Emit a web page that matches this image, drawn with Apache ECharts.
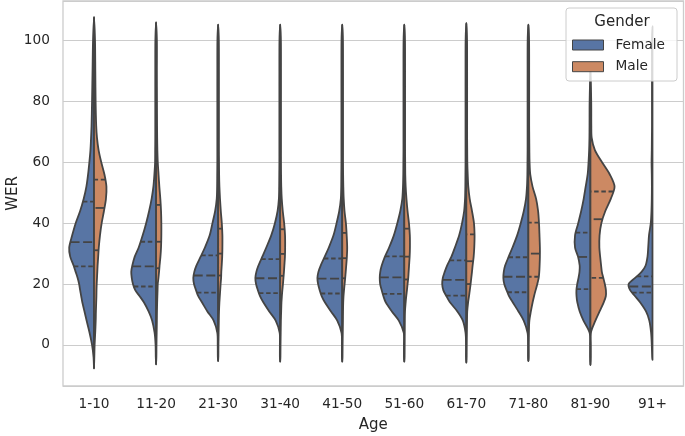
<!DOCTYPE html>
<html>
<head>
<meta charset="utf-8">
<script src="https://cdn.jsdelivr.net/npm/echarts@6/dist/echarts.min.js"></script>
<style>
  html, body { margin: 0; padding: 0; background: #fff; }
  #chart { width: 685px; height: 436px; }
</style>
</head>
<body>
<div id="chart"></div>
<script>
// categories on the x axis
var ageGroups = ['1-10', '11-20', '21-30', '31-40', '41-50', '51-60', '61-70', '71-80', '81-90', '91+'];

var yGrid = [-8, -4, 0, 4, 8, 11, 14, 16, 18, 20, 22, 24, 26, 29, 32, 36, 40, 44, 48, 52, 56, 60, 64, 68, 72, 80, 90, 100, 110];

// density (relative units, 25 = widest half) per age group, female half
var femaleDensity = [
  [0.3, 0.5, 2, 4.5, 7.5, 9.6, 11.8, 12.9, 14, 15, 16.5, 18.5, 20.5, 24, 25, 22, 18.5, 14, 10.4, 7.7, 6, 4.7, 3.6, 3, 2.5, 2, 1.5, 1, 0.8],
  [0.3, 0.3, 0.5, 1.5, 4, 7.5, 12.3, 16.5, 21, 23.3, 24.5, 25, 24, 21.5, 17.5, 13.5, 10, 7, 4.5, 2.7, 1.7, 1, 0.9, 0.8, 0.8, 0.8, 0.8, 0.7, 0.5],
  [0.2, 0.3, 0.4, 0.8, 4.5, 10.8, 16.3, 20, 22.3, 24.3, 25, 24, 22, 17.6, 13.3, 8.5, 5.7, 3, 1.4, 1, 0.9, 0.8, 0.8, 0.8, 0.8, 0.8, 0.8, 0.7, 0.5],
  [0.2, 0.3, 0.3, 0.5, 4.5, 11, 17, 20.3, 22.5, 24.3, 25, 24, 22, 18, 14, 9, 5.3, 2.6, 1.3, 1, 0.9, 0.8, 0.8, 0.8, 0.8, 0.8, 0.8, 0.7, 0.5],
  [0.2, 0.3, 0.3, 0.7, 5, 11.3, 17.5, 20.7, 22.7, 24.3, 25, 24, 21.8, 17.6, 13.5, 8.8, 5.7, 3, 1.4, 1, 0.9, 0.8, 0.8, 0.8, 0.8, 0.8, 0.8, 0.7, 0.5],
  [0.2, 0.3, 0.3, 0.5, 5.5, 12.5, 18.7, 21, 22.8, 24.3, 24.7, 24.2, 22.8, 19.5, 15.3, 10.5, 7, 4, 2, 1.3, 1, 0.9, 0.8, 0.8, 0.8, 0.8, 0.8, 0.7, 0.5],
  [0.2, 0.3, 0.3, 0.8, 3.5, 9, 16.5, 20, 23.2, 24.3, 23.7, 21.8, 19.5, 15, 11.5, 7.2, 4.3, 2.2, 1.3, 1, 0.9, 0.8, 0.8, 0.8, 0.8, 0.8, 0.8, 0.7, 0.5],
  [0.2, 0.3, 0.3, 0.8, 4.7, 10, 15.8, 19.5, 22, 24.3, 25.2, 24.8, 23.5, 19.8, 16, 11.3, 7.7, 4.6, 2.4, 1.4, 1, 0.9, 0.8, 0.8, 0.8, 0.8, 0.8, 0.7, 0.5],
  [0.2, 0.3, 0.3, 0.8, 7, 10.8, 13.2, 14, 14.1, 13.3, 12, 11, 10.8, 12.5, 15.5, 15.5, 12.3, 9.3, 6.8, 4.8, 2.8, 1.9, 1.3, 1, 0.9, 0.8, 0.7, 0.6, 0.5],
  [0.2, 0.3, 0.7, 1.4, 3.2, 6.5, 12.5, 17.5, 22.5, 24, 17.5, 11, 7, 5, 4.3, 3.5, 1.7, 1, 0.7, 0.6, 0.7, 0.9, 0.7, 0.6, 0.5, 0.5, 0.5, 0.5, 0.4]
];

// male half (no male data for 91+)
var maleDensity = [
  [0.2, 0.3, 0.6, 1.2, 1.7, 1.9, 2.2, 2.4, 2.5, 2.7, 3, 3.3, 3.6, 4.2, 4.8, 6, 7.7, 10, 12, 12.5, 10.5, 7.3, 4.6, 3, 2.2, 1.6, 1.3, 1, 0.8],
  [0.2, 0.3, 0.4, 0.6, 0.8, 0.9, 1.1, 1.3, 1.5, 1.7, 2.4, 3, 3.5, 4.4, 5, 5.3, 5.3, 5, 4.3, 3.3, 2.5, 1.7, 1.3, 1.1, 1, 0.9, 0.8, 0.8, 0.5],
  [0.2, 0.2, 0.3, 0.5, 0.7, 0.9, 1.3, 1.7, 2.1, 2.5, 3, 3.2, 3.6, 4.1, 4.3, 4.3, 3.7, 2.7, 1.9, 1.3, 1, 0.9, 0.8, 0.8, 0.8, 0.8, 0.8, 0.7, 0.5],
  [0.2, 0.2, 0.3, 0.5, 0.7, 1, 1.3, 1.7, 2.2, 2.8, 3.3, 3.8, 4.2, 4.8, 5, 4.9, 4, 2.6, 1.6, 1.1, 0.9, 0.8, 0.8, 0.8, 0.8, 0.8, 0.8, 0.7, 0.5],
  [0.2, 0.2, 0.3, 0.5, 0.7, 0.8, 1, 1.3, 1.8, 2.4, 3, 3.5, 4, 4.7, 5, 4.5, 3.7, 2.3, 1.5, 1.1, 0.9, 0.8, 0.8, 0.8, 0.8, 0.8, 0.8, 0.7, 0.5],
  [0.2, 0.2, 0.3, 0.4, 0.5, 0.7, 1.4, 2, 2.7, 3.3, 4, 4.4, 4.8, 5.4, 5.7, 5.6, 4.7, 3.3, 2.2, 1.4, 1, 0.9, 0.8, 0.8, 0.8, 0.8, 0.8, 0.7, 0.5],
  [0.2, 0.2, 0.3, 0.5, 0.7, 0.9, 1.8, 2.7, 3.5, 4.3, 5, 5.7, 6.3, 7.4, 8, 8.3, 7.7, 5.7, 3.4, 2, 1.4, 1, 0.9, 0.8, 0.8, 0.8, 0.8, 0.7, 0.5],
  [0.2, 0.3, 0.3, 0.5, 1, 2.5, 4.3, 5.7, 7.3, 9, 10.4, 11, 11.3, 11.6, 11.6, 11.2, 10.7, 9.8, 7.8, 4.2, 1.9, 1.2, 1, 0.9, 0.8, 0.8, 0.8, 0.7, 0.5],
  [0.2, 0.3, 0.3, 0.4, 5, 9.2, 13.4, 15.5, 15.6, 14.5, 13, 11.5, 10.8, 9.8, 9, 9.2, 11, 15, 20.5, 24.3, 19.5, 11.7, 4.5, 1.3, 0.9, 0.8, 0.7, 0.6, 0.5],
  null
];

// lowest / highest WER per age group (violin tips)
var wMin = [-7.7, -6.4, -5.3, -5.5, -5.5, -5.5, -5.8, -5.3, -6.6, -4.9];
var wMax = [107.7, 106, 105.2, 105.2, 105.2, 105.2, 105.7, 105.2, 90, 104.7];

// quartiles
var femaleQ1 = [25.8, 19.2, 17.2, 17.0, 16.9, 16.8, 16.2, 17.3, 18.3, 17.2];
var femaleMed = [33.8, 25.8, 22.8, 21.9, 21.8, 22.2, 21.4, 22.4, 28.9, 19.2];
var femaleQ3 = [47.1, 33.9, 29.4, 28.2, 28.4, 29.1, 27.8, 28.8, 36.9, 22.5];
var maleQ1 = [31.1, 25.2, 22.8, 22.7, 21.9, 21.5, 20.0, 22.4, 22.0, null];
var maleMed = [45.0, 33.9, 30.0, 29.9, 28.5, 29.0, 27.5, 30.0, 41.3, null];
var maleQ3 = [54.3, 46.0, 38.2, 38.0, 36.8, 38.2, 36.3, 40.2, 50.4, null];

// seaborn deep palette, desaturated as the violins are
var blue = '#5875a4';
var orange = '#cc8963';
var edge = '#444444';
var txt = '#262626';
var densMax = 25;

function densAt(d, v) {
  for (var j = 0; j < yGrid.length - 1; j++) {
    if (v >= yGrid[j] && v <= yGrid[j + 1]) {
      var t = (v - yGrid[j]) / (yGrid[j + 1] - yGrid[j]);
      return d[j] + t * (d[j + 1] - d[j]);
    }
  }
  return 0;
}

function makeRender(dens, q1, q2, q3, side, color) {
  return function (params, api) {
    var i = api.value(0);
    var d = dens[i];
    if (!d) return null;
    var k = api.size([1, 0])[0] * 0.4 / densMax;
    var cx = api.coord([i, 0])[0];
    var lo = wMin[i], hi = wMax[i];
    var pts = [[lo, 0]];
    for (var j = 0; j < yGrid.length; j++) {
      if (yGrid[j] > lo && yGrid[j] < hi) pts.push([yGrid[j], d[j]]);
    }
    pts.push([hi, 0]);
    var poly = [];
    pts.forEach(function (p) {
      poly.push([cx + side * p[1] * k, api.coord([i, p[0]])[1]]);
    });
    for (var m = pts.length - 2; m > 0; m--) {
      poly.push([cx, api.coord([i, pts[m][0]])[1]]);
    }
    var children = [{
      type: 'polygon',
      shape: { points: poly, smooth: 0.3 },
      style: { fill: color, stroke: edge, lineWidth: 1.8 }
    }];
    var qs = [[q1[i], [4.5, 2.7]], [q2[i], [9, 3.6]], [q3[i], [4.5, 2.7]]];
    qs.forEach(function (q) {
      var y = api.coord([i, q[0]])[1];
      var w = densAt(d, q[0]) * k;
      children.push({
        type: 'line',
        shape: { x1: cx + side * w, y1: y, x2: cx, y2: y },
        style: { stroke: edge, lineWidth: 1.8, lineDash: q[1] }
      });
    });
    return { type: 'group', children: children };
  };
}

var chart = echarts.init(document.getElementById('chart'));
var option = {
  animation: false,
  color: [blue, orange],
  grid: {
    left: 63, right: 1.5, top: 1, bottom: 50,
    outerBoundsMode: 'none',
    containLabel: false,
    show: true, borderColor: '#cccccc', borderWidth: 1.3
  },
  xAxis: {
    type: 'category',
    data: ageGroups,
    name: 'Age',
    nameLocation: 'middle',
    nameGap: 32,
    nameMoveOverlap: false,
    nameTextStyle: { fontSize: 15, color: txt, fontFamily: 'DejaVu Sans' },
    axisLine: { show: false },
    axisTick: { show: false },
    splitLine: { show: false },
    axisLabel: { fontSize: 13.7, color: txt, margin: 11, fontFamily: 'DejaVu Sans' }
  },
  yAxis: {
    type: 'value',
    min: -13.5,
    max: 113,
    splitNumber: 6,
    minInterval: 20,
    maxInterval: 20,
    name: 'WER',
    nameLocation: 'middle',
    nameGap: 42,
    nameMoveOverlap: false,
    nameTextStyle: { fontSize: 15, color: txt, fontFamily: 'DejaVu Sans' },
    axisLine: { show: false },
    axisTick: { show: false },
    splitLine: { lineStyle: { color: '#cccccc', width: 1.2 } },
    axisLabel: {
      fontSize: 13.7, color: txt, margin: 13, fontFamily: 'DejaVu Sans',
      showMinLabel: false, showMaxLabel: false
    }
  },
  legend: {
    orient: 'vertical',
    left: 572,
    top: 38,
    padding: 0,
    itemWidth: 31,
    itemHeight: 10,
    itemGap: 7.7,
    z: 10,
    textStyle: { fontSize: 13.7, color: txt, fontFamily: 'DejaVu Sans', padding: [0, 0, 0, 7] },
    data: [
      { name: 'Female', icon: 'rect', itemStyle: { color: blue, borderColor: edge, borderWidth: 1 } },
      { name: 'Male', icon: 'rect', itemStyle: { color: orange, borderColor: edge, borderWidth: 1 } }
    ]
  },
  graphic: [
    {
      type: 'rect', z: 8,
      shape: { x: 566, y: 8, width: 111, height: 73, r: 3 },
      style: { fill: 'rgba(255,255,255,0.8)', stroke: '#cccccc', lineWidth: 1 }
    },
    {
      type: 'text', z: 9,
      x: 622, y: 22,
      style: { text: 'Gender', fontSize: 15, fill: txt, fontFamily: 'DejaVu Sans', align: 'center', verticalAlign: 'middle' }
    }
  ],
  series: [
    {
      name: 'Female',
      type: 'custom',
      itemStyle: { color: blue },
      encode: { x: 0, y: 1 },
      data: ageGroups.map(function (c, i) { return [i, femaleMed[i]]; }),
      renderItem: makeRender(femaleDensity, femaleQ1, femaleMed, femaleQ3, -1, blue)
    },
    {
      name: 'Male',
      type: 'custom',
      itemStyle: { color: orange },
      encode: { x: 0, y: 1 },
      data: ageGroups.map(function (c, i) { return [i, maleMed[i] == null ? 0 : maleMed[i]]; }),
      renderItem: makeRender(maleDensity, maleQ1, maleMed, maleQ3, 1, orange)
    }
  ]
};
chart.setOption(option);
</script>
</body>
</html>
